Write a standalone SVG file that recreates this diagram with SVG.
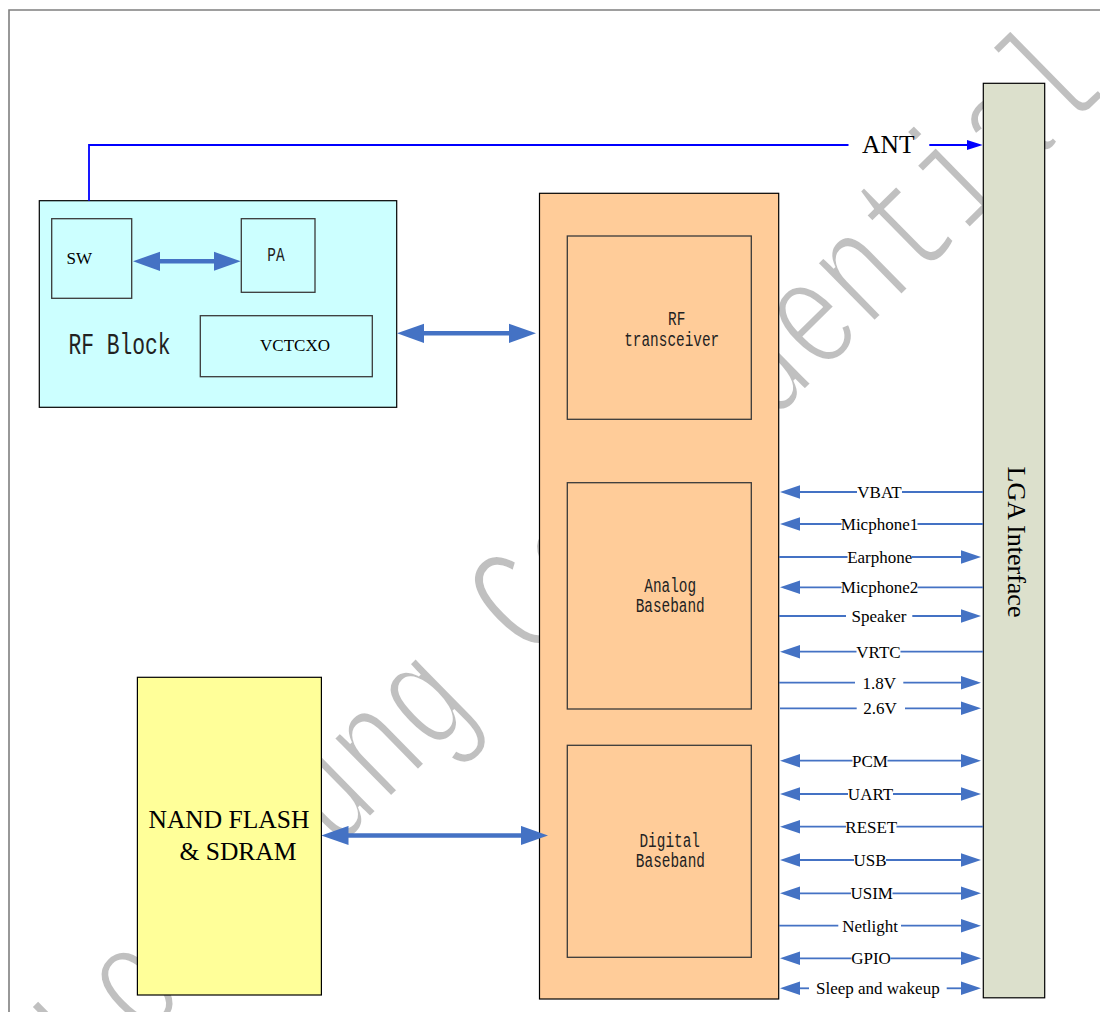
<svg xmlns="http://www.w3.org/2000/svg" width="1100" height="1012" viewBox="0 0 1100 1012">
<style>
.frame{fill:none;stroke:#7f7f7f;stroke-width:1.6}
.box{stroke:#000;stroke-width:1.2}
.inner{fill:none;stroke:#3a3a3a;stroke-width:1.3}
.sig{stroke:#4472C4;stroke-width:1.8;fill:none}
.heavy{stroke:#4472C4;stroke-width:4.5;fill:none}
.ant{stroke:#0000FF;stroke-width:1.8;fill:none}
.lbl{font-family:"Liberation Serif","Times New Roman",serif;font-size:17px;fill:#000}
.serif{font-family:"Liberation Serif","Times New Roman",serif;fill:#000}
.mono{font-family:"Liberation Mono","Courier New",monospace;fill:#222}
.wm{font-family:"Liberation Mono","Courier New",monospace;fill:#c0c0c0;stroke:#fff;stroke-width:3}
</style>
<defs>
<marker id="hh" markerUnits="userSpaceOnUse" viewBox="0 -10 27 20" markerWidth="27" markerHeight="20" refX="17" refY="0" orient="auto-start-reverse"><path d="M0,-9.6L27,0L0,9.6z" fill="#4472C4"/></marker>
<marker id="sh" markerUnits="userSpaceOnUse" viewBox="0 -7 20 14" markerWidth="20" markerHeight="14" refX="16" refY="0" orient="auto-start-reverse"><path d="M0,-6.7L20,0L0,6.7z" fill="#4472C4"/></marker>
<marker id="ah" markerUnits="userSpaceOnUse" viewBox="0 -6 16 12" markerWidth="16" markerHeight="12" refX="12" refY="0" orient="auto"><path d="M0,-5.2L16,0L0,5.2z" fill="#0000FF"/></marker>
</defs>

<text id="watermark" class="wm" font-size="113" transform="translate(94,1090) rotate(-44.5) scale(1,1.4)">Longsung Confidential</text>

<path class="frame" d="M9,1012V10H1100"/>

<g id="rf-block">
<rect class="box" x="39.3" y="200.7" width="357.4" height="206.6" fill="#CCFFFF"/>
<text class="mono" font-size="21.3" text-anchor="middle" transform="translate(119.5,354.3) scale(1,1.38)">RF Block</text>
</g>
<g id="sw">
<rect class="inner" x="51.7" y="218.7" width="80" height="79.6"/>
<text class="serif" font-size="17" text-anchor="middle" x="79.3" y="264">SW</text>
</g>
<g id="pa">
<rect class="inner" x="241.3" y="218.7" width="73.7" height="73.6"/>
<text class="mono" font-size="14.4" text-anchor="middle" transform="translate(275.9,261) scale(1,1.38)">PA</text>
</g>
<g id="vctcxo">
<rect class="inner" x="200.3" y="315.7" width="172" height="61"/>
<text class="serif" font-size="17" text-anchor="middle" x="295" y="351">VCTCXO</text>
</g>

<g id="baseband-chip">
<rect class="box" x="539.5" y="193.3" width="239.2" height="805.7" fill="#FFCC99"/>
</g>
<g id="rf-transceiver">
<rect class="inner" x="567.3" y="236" width="184" height="183.3"/>
<text class="mono" font-size="14.4" text-anchor="middle" transform="translate(676.7,325) scale(1,1.38)">RF</text>
<text class="mono" font-size="14.4" text-anchor="middle" transform="translate(671.7,346) scale(1,1.38)">transceiver</text>
</g>
<g id="analog-baseband">
<rect class="inner" x="567.3" y="482.7" width="184" height="226.3"/>
<text class="mono" font-size="14.4" text-anchor="middle" transform="translate(670.2,591.7) scale(1,1.38)">Analog</text>
<text class="mono" font-size="14.4" text-anchor="middle" transform="translate(670.2,611.7) scale(1,1.38)">Baseband</text>
</g>
<g id="digital-baseband">
<rect class="inner" x="567.3" y="745.3" width="184" height="212"/>
<text class="mono" font-size="14.4" text-anchor="middle" transform="translate(669.7,846.7) scale(1,1.38)">Digital</text>
<text class="mono" font-size="14.4" text-anchor="middle" transform="translate(670.4,866.7) scale(1,1.38)">Baseband</text>
</g>

<g id="nand-sdram">
<rect class="box" x="137.4" y="677.3" width="184" height="317.7" fill="#FFFF99"/>
<text class="serif" font-size="25.5" x="148.5" y="828.3">NAND FLASH</text>
<text class="serif" font-size="25.5" x="179.5" y="860">&amp; SDRAM</text>
</g>

<g id="lga">
<rect class="box" x="983.3" y="83.3" width="61.4" height="914.5" fill="#DCE0CC"/>
<text class="serif" font-size="26" text-anchor="middle" transform="translate(1007.5,542) rotate(90)">LGA Interface</text>
</g>

<g id="connectors">
<path class="ant" d="M89,200.7V145H848.5"/>
<line class="ant" x1="929.3" y1="145" x2="978.7" y2="145" marker-end="url(#ah)"/>
<text class="serif" font-size="25.5" text-anchor="middle" x="888.3" y="152.7">ANT</text>

<line class="heavy" x1="143" y1="261.3" x2="230.7" y2="261.3" marker-start="url(#hh)" marker-end="url(#hh)"/>
<line class="heavy" x1="407" y1="333.3" x2="526" y2="333.3" marker-start="url(#hh)" marker-end="url(#hh)"/>
<line class="heavy" x1="331.5" y1="835.5" x2="538" y2="835.5" marker-start="url(#hh)" marker-end="url(#hh)"/>

<line class="sig" x1="784" y1="492" x2="857" y2="492" marker-start="url(#sh)"/>
<line class="sig" x1="902" y1="492" x2="983" y2="492"/>
<text class="lbl" text-anchor="middle" x="879.5" y="497.8">VBAT</text>

<line class="sig" x1="784" y1="524" x2="841.5" y2="524" marker-start="url(#sh)"/>
<line class="sig" x1="917.5" y1="524" x2="983" y2="524"/>
<text class="lbl" text-anchor="middle" x="879.5" y="529.8">Micphone1</text>

<line class="sig" x1="779" y1="557" x2="847.5" y2="557"/>
<line class="sig" x1="912" y1="557" x2="977" y2="557" marker-end="url(#sh)"/>
<text class="lbl" text-anchor="middle" x="879.7" y="562.8">Earphone</text>

<line class="sig" x1="784" y1="587.3" x2="841.5" y2="587.3" marker-start="url(#sh)"/>
<line class="sig" x1="917.5" y1="587.3" x2="983" y2="587.3"/>
<text class="lbl" text-anchor="middle" x="879.5" y="593.1">Micphone2</text>

<line class="sig" x1="779" y1="616" x2="846" y2="616"/>
<line class="sig" x1="912.3" y1="616" x2="977" y2="616" marker-end="url(#sh)"/>
<text class="lbl" text-anchor="middle" x="879" y="621.8">Speaker</text>

<line class="sig" x1="784" y1="651.7" x2="856.5" y2="651.7" marker-start="url(#sh)"/>
<line class="sig" x1="900.5" y1="651.7" x2="983" y2="651.7"/>
<text class="lbl" text-anchor="middle" x="878.5" y="657.5">VRTC</text>

<line class="sig" x1="779" y1="682.7" x2="855" y2="682.7"/>
<line class="sig" x1="903.3" y1="682.7" x2="977" y2="682.7" marker-end="url(#sh)"/>
<text class="lbl" text-anchor="middle" x="879.3" y="688.5">1.8V</text>

<line class="sig" x1="780" y1="708.3" x2="856.7" y2="708.3"/>
<line class="sig" x1="905" y1="708.3" x2="977" y2="708.3" marker-end="url(#sh)"/>
<text class="lbl" text-anchor="middle" x="880" y="714.1">2.6V</text>

<line class="sig" x1="784" y1="760.7" x2="852.5" y2="760.7" marker-start="url(#sh)"/>
<line class="sig" x1="887.5" y1="760.7" x2="977" y2="760.7" marker-end="url(#sh)"/>
<text class="lbl" text-anchor="middle" x="870" y="766.5">PCM</text>

<line class="sig" x1="784" y1="794" x2="848" y2="794" marker-start="url(#sh)"/>
<line class="sig" x1="893" y1="794" x2="977" y2="794" marker-end="url(#sh)"/>
<text class="lbl" text-anchor="middle" x="870.5" y="799.8">UART</text>

<line class="sig" x1="784" y1="826.7" x2="846" y2="826.7" marker-start="url(#sh)"/>
<line class="sig" x1="896.5" y1="826.7" x2="983" y2="826.7"/>
<text class="lbl" text-anchor="middle" x="871.3" y="832.5">RESET</text>

<line class="sig" x1="784" y1="860" x2="854" y2="860" marker-start="url(#sh)"/>
<line class="sig" x1="886" y1="860" x2="977" y2="860" marker-end="url(#sh)"/>
<text class="lbl" text-anchor="middle" x="870" y="865.8">USB</text>

<line class="sig" x1="784" y1="893.3" x2="851" y2="893.3" marker-start="url(#sh)"/>
<line class="sig" x1="892.5" y1="893.3" x2="977" y2="893.3" marker-end="url(#sh)"/>
<text class="lbl" text-anchor="middle" x="871.7" y="899.1">USIM</text>

<line class="sig" x1="779" y1="925.7" x2="838.3" y2="925.7"/>
<line class="sig" x1="901" y1="925.7" x2="977" y2="925.7" marker-end="url(#sh)"/>
<text class="lbl" text-anchor="middle" x="870" y="931.5">Netlight</text>

<line class="sig" x1="784" y1="958.3" x2="851.5" y2="958.3" marker-start="url(#sh)"/>
<line class="sig" x1="890.5" y1="958.3" x2="977" y2="958.3" marker-end="url(#sh)"/>
<text class="lbl" text-anchor="middle" x="871" y="964.1">GPIO</text>

<line class="sig" x1="784" y1="988.3" x2="809" y2="988.3" marker-start="url(#sh)"/>
<line class="sig" x1="946.7" y1="988.3" x2="977" y2="988.3" marker-end="url(#sh)"/>
<text class="lbl" text-anchor="middle" x="877.8" y="994.1">Sleep and wakeup</text>
</g>
</svg>
